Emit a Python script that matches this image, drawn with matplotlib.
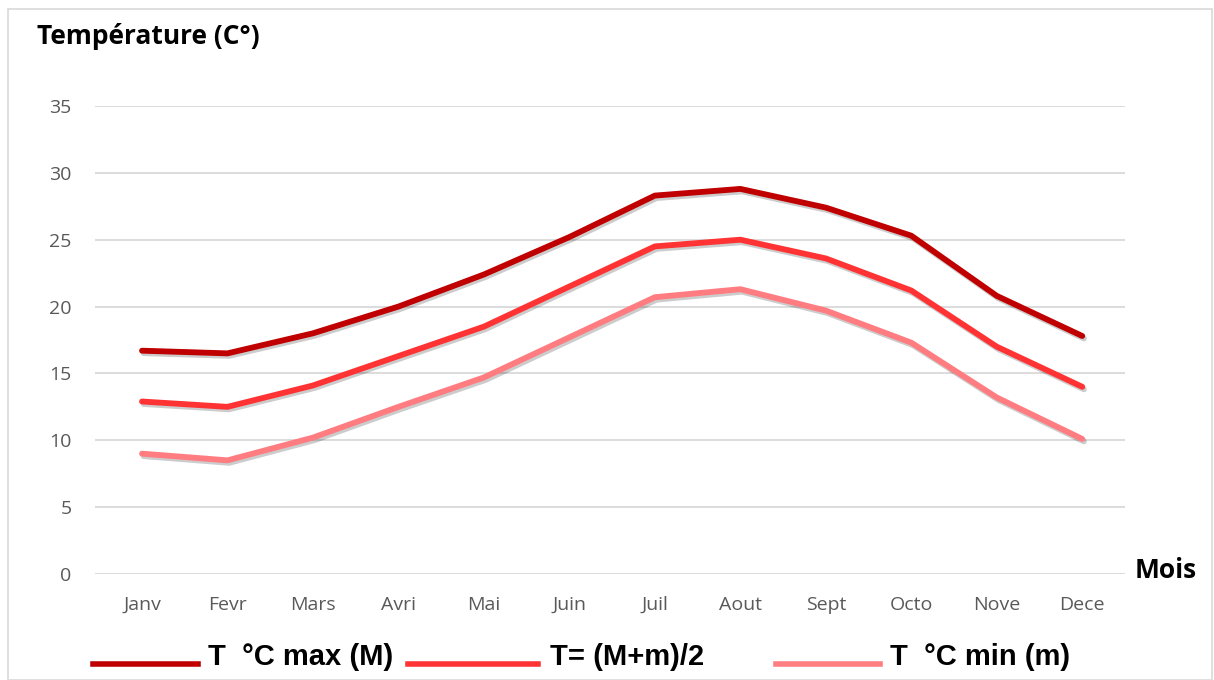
import matplotlib.pyplot as plt
import matplotlib.patheffects as pe
from matplotlib.lines import Line2D
from matplotlib.patches import Rectangle

# donnees
mois = ['Janv', 'Fevr', 'Mars', 'Avri', 'Mai', 'Juin', 'Juil', 'Aout', 'Sept', 'Octo', 'Nove', 'Dece']
t_max = [16.7, 16.5, 18.0, 20.0, 22.4, 25.2, 28.3, 28.8, 27.4, 25.3, 20.8, 17.8]
t_moy = [12.9, 12.5, 14.1, 16.3, 18.5, 21.5, 24.5, 25.0, 23.6, 21.2, 17.0, 14.0]
t_min = [9.0, 8.5, 10.2, 12.5, 14.7, 17.7, 20.7, 21.3, 19.7, 17.3, 13.2, 10.1]
y_ticks = [0, 5, 10, 15, 20, 25, 30, 35]

couleurs = ['#C00000', '#FF3333', '#FF7C80']
series = [t_max, t_moy, t_min]
noms = ['T  °C max (M)', 'T= (M+m)/2', 'T  °C min (m)']

fig = plt.figure(figsize=(12.14, 6.8), dpi=100)
fig.patches.append(Rectangle((8/1214, 0), 1204/1214, 1 - 9/680, transform=fig.transFigure,
                             fill=False, edgecolor='#D9D9D9', lw=1.2))

ax = fig.add_axes([95/1214, 1 - 574/680, 1030/1214, 468/680])
x = range(len(mois))
ombre = [pe.SimpleLineShadow(offset=(1.2, -1.8), shadow_color='black', alpha=0.2), pe.Normal()]
for s, c in zip(series, couleurs):
    ax.plot(x, s, color=c, lw=4.2, solid_capstyle='round', solid_joinstyle='round',
            path_effects=ombre, zorder=3)

ax.set_xlim(-0.55, 11.5)
ax.set_ylim(0, 35)
ax.set_yticks(y_ticks)
ax.set_xticks(list(x))
ax.set_xticklabels(mois)
ax.grid(axis='y', color='#D9D9D9', lw=1.3)
ax.set_axisbelow(True)
for sp in ax.spines.values():
    sp.set_visible(False)
ax.tick_params(length=0, labelsize=14, labelcolor='#595959')
ax.tick_params(axis='x', pad=16)
ax.tick_params(axis='y', pad=17)
for lab in ax.get_xticklabels() + ax.get_yticklabels():
    lab.set_fontfamily('Open Sans')

# titres des axes
fig.text(37/1214, 1 - 37/680, 'Température (C°)', fontsize=19, fontweight='bold',
         family='Open Sans', va='center', ha='left')
fig.text(1135/1214, 1 - 570/680, 'Mois', fontsize=19, fontweight='bold',
         family='Open Sans', va='center', ha='left')

# legende en bas
pos_ligne = [(93, 198), (408, 538), (776, 880)]
pos_texte = [208, 550, 890]
for (x0, x1), xt, c, n in zip(pos_ligne, pos_texte, couleurs, noms):
    fig.add_artist(Line2D([x0/1214, x1/1214], [1 - 664/680] * 2, color=c, lw=4,
                          transform=fig.transFigure))
    fig.text(xt/1214, 1 - 657/680, n, fontsize=21, fontweight='bold',
             family='Liberation Sans', va='center', ha='left')

fig.savefig('out.png', dpi=100)
